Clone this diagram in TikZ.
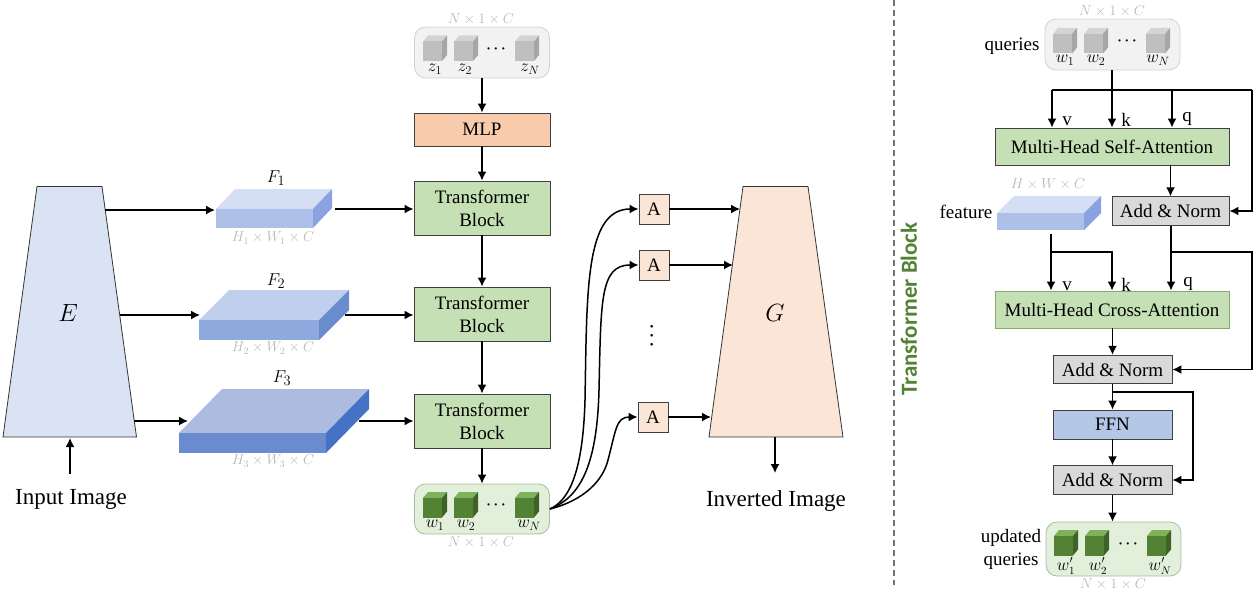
\documentclass[tikz,border=0pt]{standalone}
\usepackage{fontspec}
\setmainfont{Liberation Serif}
\newfontfamily\blockfont{Carlito}
\usetikzlibrary{arrows.meta}
\definecolor{greybox}{HTML}{F2F2F2}
\definecolor{greenbox}{HTML}{E2EFDA}
\definecolor{blockgreen}{HTML}{C5E0B4}
\definecolor{normgrey}{HTML}{D9D9D9}
\definecolor{ffnblue}{HTML}{B4C7E7}
\definecolor{encblue}{HTML}{DAE3F3}
\definecolor{peach}{HTML}{FBE5D6}
\definecolor{labelgrey}{HTML}{B8B8B8}
\tikzset{
  arr/.style = {-{Latex[length=9pt,width=9pt]}, line width=1.5pt},
  lin/.style = {line width=1.5pt},
  blk/.style = {draw=black!75, line width=.9pt, align=center, inner sep=0pt,
    font=\fontsize{19}{23}\selectfont},
  tblock/.style = {blk, fill=blockgreen, minimum width=136pt, minimum height=54pt},
  attn/.style = {blk, fill=blockgreen, minimum width=234pt, minimum height=37pt},
  norm/.style = {blk, fill=normgrey, minimum width=119pt, minimum height=28.5pt},
  abox/.style = {blk, fill=peach, minimum width=30pt, minimum height=30pt},
  qgrey/.style = {draw=black!18, fill=greybox, rounded corners=11pt, minimum width=135pt, line width=.8pt},
  qgreen/.style = {draw=green!25!black!35, fill=greenbox, rounded corners=11pt, minimum width=135pt, line width=.8pt},
  dim/.style = {text=labelgrey, font=\fontsize{14}{16}\selectfont, inner sep=0pt},
  sub/.style = {font=\fontsize{17}{19}\selectfont, inner sep=0pt},
  subp/.style = {font=\fontsize{16}{18}\selectfont, inner sep=0pt},
  fname/.style = {font=\fontsize{19}{21}\selectfont, inner sep=0pt},
  letter/.style = {font=\fontsize{40}{42}\selectfont, inner sep=0pt},
  txt/.style = {font=\fontsize{19}{23}\selectfont, inner sep=0pt, align=center},
  big/.style = {font=\fontsize{23}{26}\selectfont, inner sep=0pt},
  trap/.style = {draw=black!80, line width=.8pt},
  dotrun/.style = {font=\fontsize{15}{15}\selectfont\boldmath, inner sep=0pt},
}
% cube: x, y of front top left, front, top, side
\newcommand{\qcube}[5]{
  \fill[#4] (#1,#2) -- ++(5,-6) -- ++(19,0) -- ++(-5,6) -- cycle;
  \fill[#5] (#1+19,#2) -- ++(5,-6) -- ++(0,19.5) -- ++(-5,6) -- cycle;
  \fill[#3] (#1,#2) rectangle ++(19,19.5);
}
% slab: front left, front right, front top, front bottom, dx, dy, colours
\newcommand{\slab}[9]{
  \fill[#7] (#1,#3) -- ++(#5,-#6) -- (#2+#5,#3-#6) -- (#2,#3) -- cycle;
  \fill[#9] (#2,#3) -- (#2+#5,#3-#6) -- (#2+#5,#4-#6) -- (#2,#4) -- cycle;
  \fill[#8] (#1,#3) rectangle (#2,#4);
}
\begin{document}
\begin{tikzpicture}[x=1pt,y=-1pt]
  \useasboundingbox (0,0) rectangle (1255,594);

  % encoder and generator
  \draw[trap, fill=encblue] (37,186.5) -- (102,186.5) -- (136.5,437) -- (3,437) -- cycle;
  \draw[trap, fill=peach] (743,186.5) -- (808,186.5) -- (843,437) -- (709,437) -- cycle;
  \node[letter] (enc) at (68,313) {$E$};
  \node[letter] (gen) at (775,313) {$G$};
  \node[big] (input) at (71,499) {Input Image};
  \node[big] (inverted) at (776,501) {Inverted Image};
  \coordinate (encin) at (70,438);
  \coordinate (inputtop) at (70,474);
  \coordinate (genout) at (775,437);
  \coordinate (invertedtop) at (775,473);
  \draw[arr] (inputtop) -- (encin);
  \draw[arr] (genout) -- (invertedtop);

  % feature maps
  \slab{216}{313}{209}{228}{19}{20}{fill={rgb,255:red,212;green,222;blue,244}}{fill={rgb,255:red,174;green,192;blue,232}}{fill={rgb,255:red,138;green,162;blue,223}}
  \slab{199}{319}{320}{340}{30}{30}{fill={rgb,255:red,192;green,207;blue,236}}{fill={rgb,255:red,142;green,169;blue,219}}{fill={rgb,255:red,106;green,139;blue,206}}
  \slab{179}{326}{433}{453}{43}{44}{fill={rgb,255:red,171;green,188;blue,224}}{fill={rgb,255:red,106;green,139;blue,206}}{fill={rgb,255:red,68;green,114;blue,196}}
  \node[fname] (f1) at (276,178) {$F_1$};
  \node[fname] (f2) at (276,281) {$F_2$};
  \node[fname] (f3) at (282,378) {$F_3$};
  \node[dim] (f1dim) at (273,238) {$H_1\times W_1\times C$};
  \node[dim] (f2dim) at (273,348) {$H_2\times W_2\times C$};
  \node[dim] (f3dim) at (273,461) {$H_3\times W_3\times C$};

  % middle column
  \node[qgrey, minimum height=51pt] (zbox) at (482,52.5) {};
  \node[blk, minimum width=136pt, minimum height=33pt, fill={rgb,255:red,248;green,203;blue,173}] (mlp) at (482,129.5) {MLP};
  \node[tblock] (tb1) at (482,208) {Transformer\\Block};
  \node[tblock] (tb2) at (482,314) {Transformer\\Block};
  \node[tblock] (tb3) at (482,421) {Transformer\\Block};
  \node[qgreen, minimum height=50pt] (wbox) at (482,509) {};
  \foreach \cx in {423,454,515} {
    \qcube{\cx}{41.5}{fill=black!25}{fill=black!17}{fill=black!35}
    \qcube{\cx}{498}{fill={rgb,255:red,84;green,130;blue,53}}{fill={rgb,255:red,125;green,178;blue,90}}{fill={rgb,255:red,62;green,98;blue,40}}
  }
  \node[sub] (z1) at (435,69) {$z_1$};
  \node[sub] (z2) at (465,69) {$z_2$};
  \node[sub] (zn) at (530,69) {$z_N$};
  \node[sub] (w1) at (435,525) {$w_1$};
  \node[sub] (w2) at (466,525) {$w_2$};
  \node[sub] (wn) at (529,525) {$w_N$};
  \node[dotrun] (zdots) at (496,49) {$\cdots$};
  \node[dotrun] (wdots) at (496,505) {$\cdots$};
  \node[dim] (zdim) at (481,19) {$N\times 1\times C$};
  \node[dim] (wdim) at (481,542) {$N\times 1\times C$};

  \draw[arr] (zbox) -- (mlp);
  \draw[arr] (mlp) -- (tb1);
  \draw[arr] (tb1) -- (tb2);
  \draw[arr] (tb2) -- (tb3);
  \draw[arr] (tb3) -- (wbox);

  \coordinate (e1) at (105,210);
  \coordinate (e2) at (120,315);
  \coordinate (e3) at (134,421);
  \coordinate (f1in) at (215,210);
  \coordinate (f2in) at (200,315);
  \coordinate (f3in) at (188,421);
  \coordinate (f1out) at (335,209);
  \coordinate (f2out) at (345,315);
  \coordinate (f3out) at (359,421);
  \draw[arr] (e1) -- (f1in);
  \draw[arr] (e2) -- (f2in);
  \draw[arr] (e3) -- (f3in);
  \draw[arr] (f1out) -- (tb1.west |- f1out);
  \draw[arr] (f2out) -- (tb2.west |- f2out);
  \draw[arr] (f3out) -- (tb3.west |- f3out);

  % style codes
  \node[abox] (a1) at (654,209) {A};
  \node[abox] (a2) at (654,265) {A};
  \node[abox] (a3) at (653,417) {A};
  \node[dotrun, font=\fontsize{17}{17}\selectfont\boldmath, rotate=90] (adots) at (652,336) {$\cdots$};
  \coordinate (g1) at (740,209);
  \coordinate (g2) at (733,265);
  \coordinate (g3) at (711,417);
  \draw[arr] (a1) -- (g1);
  \draw[arr] (a2) -- (g2);
  \draw[arr] (a3) -- (g3);
  \draw[arr] (wbox.east) .. controls (570,500) and (583,470) .. (585,400) .. controls (587,290) and (585,209) .. (a1.west);
  \draw[arr] (wbox.east) .. controls (578,498) and (597,470) .. (599,390) .. controls (601,300) and (600,265) .. (a2.west);
  \draw[arr] (wbox.east) .. controls (585,500) and (603,480) .. (608,460) .. controls (616,430) and (616,417) .. (a3.west);

  \coordinate (sepa) at (894,0);
  \coordinate (sepb) at (894,585);
  \draw[black!55, line width=1.1pt, dash pattern=on 6pt off 4pt] (sepa) -- (sepb);
  \node[rotate=90, font=\blockfont\bfseries\fontsize{23}{25}\selectfont, text={rgb,255:red,84;green,130;blue,53}, inner sep=0pt] (tbtitle) at (909,309) {Transformer Block};

  % transformer block
  \node[qgrey, minimum height=51pt] (qbox) at (1112.5,44.5) {};
  \node[attn] (msa) at (1112,146.5) {Multi-Head Self-Attention};
  \node[norm, minimum width=117pt] (an1) at (1170.5,211) {Add \& Norm};
  \node[attn, draw={rgb,255:red,130;green,170;blue,105}] (mca) at (1112,309.5) {Multi-Head Cross-Attention};
  \node[norm] (an2) at (1112.5,369.5) {Add \& Norm};
  \node[blk, fill=ffnblue, minimum width=119pt, minimum height=29pt] (ffn) at (1112.5,424.5) {FFN};
  \node[norm] (an3) at (1112.5,480) {Add \& Norm};
  \node[qgreen, minimum height=54pt] (ubox) at (1113.5,549) {};
  \foreach \cx in {1053,1084,1146} {
    \qcube{\cx}{34}{fill=black!25}{fill=black!17}{fill=black!35}
  }
  \foreach \cx in {1054,1085,1147} {
    \qcube{\cx}{536}{fill={rgb,255:red,84;green,130;blue,53}}{fill={rgb,255:red,125;green,178;blue,90}}{fill={rgb,255:red,62;green,98;blue,40}}
  }
  \slab{997}{1084}{213}{230}{17}{17}{fill={rgb,255:red,212;green,222;blue,244}}{fill={rgb,255:red,174;green,192;blue,232}}{fill={rgb,255:red,138;green,162;blue,223}}

  \node[sub] (qw1) at (1065,60) {$w_1$};
  \node[sub] (qw2) at (1096,60) {$w_2$};
  \node[sub] (qwn) at (1158,60) {$w_N$};
  \node[subp] (uw1) at (1066,566) {$w'_1$};
  \node[subp] (uw2) at (1098,566) {$w'_2$};
  \node[subp] (uwn) at (1160,566) {$w'_N$};
  \node[dotrun] (qdots) at (1127,41) {$\cdots$};
  \node[dotrun] (udots) at (1128,544) {$\cdots$};
  \node[dim] (qdim) at (1112,11) {$N\times 1\times C$};
  \node[dim] (udim) at (1113,584) {$N\times 1\times C$};
  \node[dim] (fdim) at (1048,184) {$H\times W\times C$};
  \node[txt] (queries) at (1012,46) {queries};
  \node[txt] (feature) at (966,212) {feature};
  \node[txt] (updated) at (1011,549) {updated\\queries};
  \node[txt] (vself) at (1067,121) {v};
  \node[txt] (kself) at (1126,120) {k};
  \node[txt] (qself) at (1187,119) {q};
  \node[txt] (vcross) at (1067,286) {v};
  \node[txt] (kcross) at (1126,285) {k};
  \node[txt] (qcross) at (1188,284) {q};

  \coordinate (qv) at (1052,90);
  \coordinate (qk) at (1112,90);
  \coordinate (qq) at (1172,90);
  \coordinate (qr) at (1252,90);
  \coordinate (fout) at (1051,234);
  \coordinate (fk) at (1051,252);
  \coordinate (fk2) at (1112,252);
  \coordinate (anb) at (1171,252);
  \coordinate (anr) at (1252,252);
  \coordinate (an2b) at (1113,392);
  \coordinate (an2r) at (1193,392);

  \draw[lin] (qbox.south -| qk) -- (qk);
  \draw[lin] (qv) -- (qr);
  \draw[arr] (qv) -- (msa.north -| qv);
  \draw[arr] (qk) -- (msa.north -| qk);
  \draw[arr] (qq) -- (msa.north -| qq);
  \draw[arr] (qr) |- (an1.east);
  \draw[arr] (msa.south -| an1) -- (an1);
  \draw[arr] (fout) -- (mca.north -| fout);
  \draw[arr] (fk) -- (fk2) -- (mca.north -| fk2);
  \draw[arr] (an1.south -| anb) -- (mca.north -| anb);
  \draw[arr] (anb) -- (anr) |- (an2.east);
  \draw[arr] (mca.south -| an2) -- (an2);
  \draw[arr] (an2) -- (ffn);
  \draw[arr] (an2b) -- (an2r) |- (an3.east);
  \draw[arr] (ffn) -- (an3);
  \draw[arr] (an3.south) -- (ubox.north -| an3.south);
\end{tikzpicture}
\end{document}
